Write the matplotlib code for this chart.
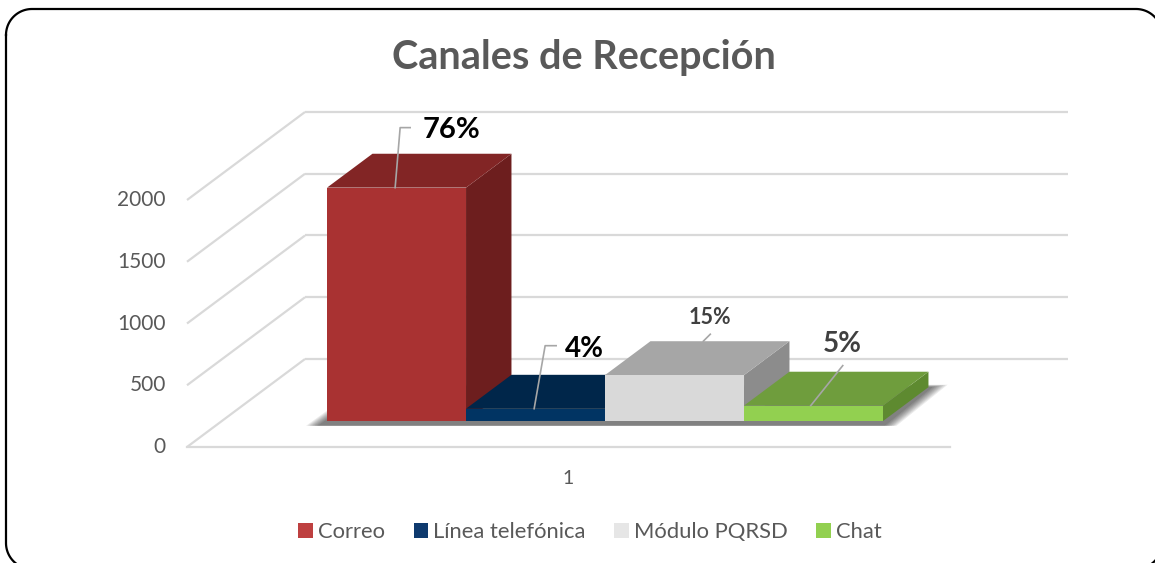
import matplotlib
matplotlib.use("Agg")
import numpy as np
import matplotlib.pyplot as plt
from matplotlib.patches import Polygon, Patch

# ---------------- data ----------------
categories = ["Correo", "Línea telefónica", "Módulo PQRSD", "Chat"]
values = [1890, 100, 372, 125]
pct_labels = ["76%", "4%", "15%", "5%"]
yticks = [0, 500, 1000, 1500, 2000]
xcat_label = "1"
title = "Canales de Recepción"

# ---------------- style ----------------
front_cols = ["#A93232", "#013463", "#D9D9D9", "#92D050"]
top_cols = ["#822525", "#00264A", "#A6A6A6", "#6F9D3D"]
side_cols = ["#6D1E1E", "#001E3C", "#8C8C8C", "#5E8A30"]
legend_cols = ["#BE4040", "#0E3A6E", "#E6E6E6", "#92D050"]
FONT = "Lato"
TXT = "#595959"

W, H = 1155, 563
fig = plt.figure(figsize=(W / 100, H / 100), dpi=100)
ax = fig.add_axes([0, 0, 1, 1])

PX_X = 139.0          # pixels per category width unit
PX_V = 247.0 / 2000   # pixels per value unit
X0PX, Y0PX = 187, 447  # front floor-left corner (pixels from top)
ax.set_xlim(-X0PX / PX_X, (W - X0PX) / PX_X)
ax.set_ylim(-(H - Y0PX) / PX_V, Y0PX / PX_V)
ax.axis("off")

DX = 118 / PX_X       # full depth shift in x units
DY = 88 / PX_V        # full depth shift in value units
FLOOR_W = 763 / PX_X
GAP = 0.757
D0, D1 = 0.295, 0.68


def P(x, d, v):
    return (x + d * DX, v + d * DY)


def dpx(px):
    return px / PX_X


def dpy(px):
    return px / PX_V


grid_c = "#D9D9D9"
for t in yticks:
    ax.plot(*zip(P(0, 0, t), P(0, 1, t)), color=grid_c, lw=1.6, zorder=1,
            solid_capstyle="butt")
    ax.plot(*zip(P(0, 1, t), P(FLOOR_W, 1, t)), color=grid_c, lw=1.6, zorder=1,
            solid_capstyle="butt")
ax.plot(*zip(P(0, 0, 0), P(FLOOR_W, 0, 0)), color=grid_c, lw=1.6, zorder=1)

for t in yticks:
    x, y = P(0, 0, t)
    ax.text(x - dpx(21), y, f"{t}", ha="right", va="center", fontsize=15,
            color=TXT, family=FONT)

# soft shadow under bars
xl, xr = GAP, GAP + len(values)
for k in range(8):
    e = 0.01 + k * 0.012
    poly = [P(xl - e - 0.04, D0 - 0.02, -dpy(3)), P(xr + e + 0.02, D0 - 0.02, -dpy(3)),
            P(xr + e + 0.02, D1 + e * 0.3, 0), P(xl - e, D1 + e * 0.3, 0)]
    ax.add_patch(Polygon(poly, closed=True, facecolor="black", edgecolor="none",
                         alpha=0.08, zorder=2))

# bars
for i, h in enumerate(values):
    x0, x1 = GAP + i, GAP + i + 1
    side = [P(x1, D0, 0), P(x1, D1, 0), P(x1, D1, h), P(x1, D0, h)]
    top = [P(x0, D0, h), P(x1, D0, h), P(x1, D1, h), P(x0, D1, h)]
    front = [P(x0, D0, 0), P(x1, D0, 0), P(x1, D0, h), P(x0, D0, h)]
    z = 3 + i
    ax.add_patch(Polygon(side, closed=True, facecolor=side_cols[i], edgecolor="none", zorder=z))
    ax.add_patch(Polygon(top, closed=True, facecolor=top_cols[i], edgecolor="none", zorder=z))
    ax.add_patch(Polygon(front, closed=True, facecolor=front_cols[i], edgecolor="none", zorder=z))

# data labels with leader lines
lead_c = "#A6A6A6"
specs = [
    (0.49, D0, [(5, 60), (15, 60)], (27, 58), 21, "black", "left"),
    (0.49, D0, [(11, 63), (22, 63)], (31, 60), 20, "black", "left"),
    (0.38, D1, [(7, 7)], (7, 24), 15.5, "#404040", "center"),
    (0.48, D0, [(32, 40)], (32, 62), 20, "#404040", "center"),
]
for i, (fr, dd, pts, lab, fs, col, ha) in enumerate(specs):
    ax_, ay_ = P(GAP + i + fr, dd, values[i])
    xs = [ax_] + [ax_ + dpx(p[0]) for p in pts]
    ys = [ay_] + [ay_ + dpy(p[1]) for p in pts]
    ax.plot(xs, ys, color=lead_c, lw=1.2, zorder=10)
    ax.text(ax_ + dpx(lab[0]), ay_ + dpy(lab[1]), pct_labels[i], fontsize=fs,
            fontweight="bold", color=col, ha=ha, va="center", family=FONT, zorder=11)

cx, cy = P(FLOOR_W / 2, 0, 0)
ax.text(cx, cy - dpy(31), xcat_label, ha="center", va="center", fontsize=14,
        color=TXT, family=FONT)

fig.text(584 / W, 1 - 57 / H, title, ha="center", va="center", fontsize=28.5,
         fontweight="bold", color=TXT, family=FONT)

handles = [Patch(facecolor=c, edgecolor="none") for c in legend_cols]
leg = fig.legend(handles, categories, loc="center", bbox_to_anchor=(590 / W, 1 - 532 / H),
                 ncol=4, frameon=False, handlelength=0.68, handleheight=0.68,
                 handletextpad=0.22, columnspacing=1.3, prop={"family": FONT, "size": 15.8})
for t in leg.get_texts():
    t.set_color(TXT)

# rounded border in pixel coordinates
bax = fig.add_axes([0, 0, 1, 1], zorder=30)
bax.set_xlim(0, W)
bax.set_ylim(H, 0)
bax.axis("off")
bax.patch.set_alpha(0)
L, T, R, B, r = 6, 9, 1162, 569, 26
th = np.linspace(0, np.pi / 2, 30)
bx, by = [], []
for (cxr, cyr, a0) in [(L + r, T + r, np.pi), (R - r, T + r, 1.5 * np.pi),
                       (R - r, B - r, 0.0), (L + r, B - r, 0.5 * np.pi)]:
    ang = a0 + th
    bx.extend(cxr + r * np.cos(ang))
    by.extend(cyr + r * np.sin(ang))
bx.append(bx[0])
by.append(by[0])
bax.plot(bx, by, color="black", lw=1.6, clip_on=False)

fig.savefig("out.png", dpi=100)
